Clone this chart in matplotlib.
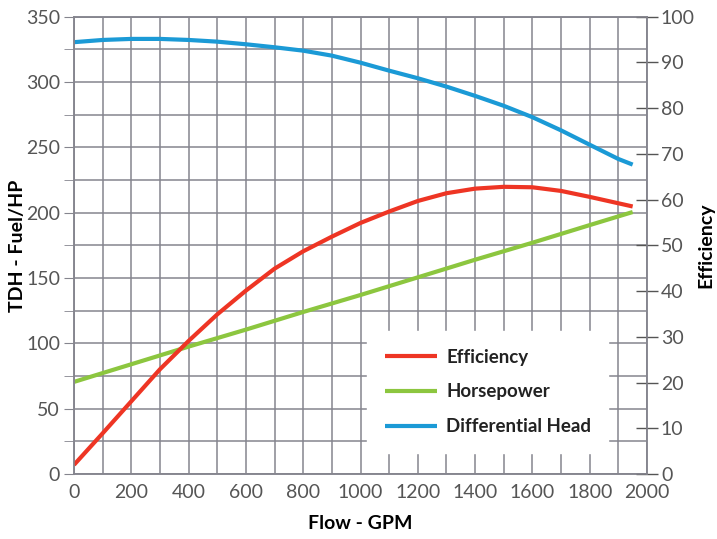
import matplotlib
matplotlib.use("Agg")
import matplotlib.pyplot as plt
from matplotlib import font_manager

# ---- data ----
flow_eff = [0, 100, 200, 300, 400, 500, 600, 700, 800, 900, 1000, 1100, 1200,
            1300, 1400, 1500, 1600, 1700, 1800, 1900, 1950]
efficiency = [2.0, 8.9, 15.9, 22.9, 29.1, 34.9, 40.1, 44.9, 48.7, 51.9, 54.9,
              57.4, 59.7, 61.4, 62.4, 62.8, 62.7, 61.9, 60.6, 59.2, 58.5]

flow_hp = [0, 200, 400, 600, 800, 1000, 1200, 1400, 1600, 1800, 1950]
horsepower = [70.5, 84, 97.5, 110.5, 124, 137, 150.5, 164, 177, 190.5, 200.5]

flow_head = [0, 100, 200, 300, 400, 500, 600, 700, 800, 900, 1000, 1100, 1200,
             1300, 1400, 1500, 1600, 1700, 1800, 1900, 1950]
diff_head = [330.5, 332.2, 333, 333, 332.2, 330.9, 328.9, 326.6, 324, 320.2,
             314.8, 308.7, 302.9, 296.5, 289.4, 281.8, 273.1, 263, 252,
             241.1, 236.8]

x_ticks = list(range(0, 2001, 200))
left_ticks = list(range(0, 351, 50))
right_ticks = list(range(0, 101, 10))

# ---- fonts: pick a family that has both regular and bold faces ----
weights = {}
for f in font_manager.fontManager.ttflist:
    if f.style == 'normal':
        w = f.weight if isinstance(f.weight, int) else 400
        weights.setdefault(f.name, set()).add(w)
fam = 'DejaVu Sans'
for cand in ['Source Sans Pro', 'Source Sans 3', 'Assistant', 'Lato', 'Open Sans']:
    ws = weights.get(cand, set())
    if 700 in ws and 400 in ws:
        fam = cand
        break
plt.rcParams['font.family'] = [fam, 'DejaVu Sans']

RED = '#ee3524'
GREEN = '#8cc63f'
BLUE = '#1b9ad6'
GRID = '#85858e'
TICKC = '#555555'

fig = plt.figure(figsize=(7.17, 5.39), dpi=100)
ax = fig.add_axes([74/717, 1 - 474/539, 573/717, 457.3/539])
ax2 = ax.twinx()

ax.set_xlim(0, 2000)
ax.set_ylim(0, 350)
ax2.set_ylim(0, 100)

ax.set_xticks(x_ticks)
ax.set_xticks(range(0, 2001, 100), minor=True)
ax.set_yticks(left_ticks)
ax.set_yticks(range(0, 351, 25), minor=True)
ax.grid(True, which='both', color=GRID, linewidth=1.1)
ax.set_axisbelow(True)

ax.tick_params(axis='x', which='both', length=0, labelsize=14, labelcolor=TICKC, pad=7)
ax.tick_params(axis='y', which='major', length=7, color=GRID, labelsize=14,
               labelcolor=TICKC, pad=3)
ax.tick_params(axis='y', which='minor', length=7, color=GRID)

ax2.set_yticks(right_ticks)
ax2.tick_params(axis='y', direction='inout', length=16, color=TICKC, width=1,
                labelsize=14, labelcolor=TICKC, pad=2)

for a in (ax, ax2):
    for s in a.spines.values():
        s.set_color(GRID)
        s.set_linewidth(1.1)

l_head, = ax.plot(flow_head, diff_head, color=BLUE, lw=3, solid_capstyle='butt',
                  solid_joinstyle='round')
l_hp, = ax.plot(flow_hp, horsepower, color=GREEN, lw=3, solid_capstyle='butt',
                solid_joinstyle='round')
l_eff, = ax2.plot(flow_eff, efficiency, color=RED, lw=3, solid_capstyle='butt',
                  solid_joinstyle='round')

ax.set_xlabel('Flow - GPM', fontsize=14, fontweight='bold', labelpad=10)
ax.set_ylabel('TDH - Fuel/HP', fontsize=14, fontweight='bold')
ax.yaxis.set_label_coords(-0.084, 0.5)
ax2.set_ylabel('Efficiency', fontsize=14, fontweight='bold', rotation=90)
ax2.yaxis.set_label_coords(1.088, 0.5)

leg = ax2.legend([l_eff, l_hp, l_head], ['Efficiency', 'Horsepower', 'Differential Head'],
                 loc='lower left', bbox_to_anchor=(0.511, 0.046, 0.421, 0.269),
                 mode='expand', frameon=True, fancybox=False, framealpha=1,
                 prop={'weight': 'bold', 'size': 13.5}, handlelength=2.8,
                 handletextpad=0.5, labelspacing=0.95, borderpad=0.95,
                 borderaxespad=0)
leg.get_frame().set_edgecolor('white')
leg.get_frame().set_facecolor('white')
for t in leg.get_texts():
    t.set_color('#222222')

fig.savefig('out.png', dpi=100)
